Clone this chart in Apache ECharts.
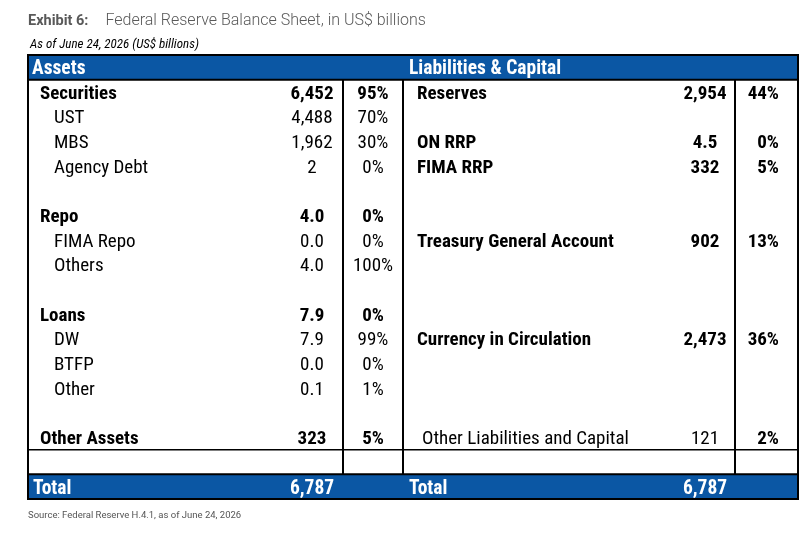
<!DOCTYPE html>
<html>
<head>
<meta charset="utf-8">
<script src="https://cdn.jsdelivr.net/npm/echarts@6/dist/echarts.min.js"></script>
<style>html,body{margin:0;padding:0;background:#fff;}#c{width:810px;height:538px;}</style>
</head>
<body>
<div id="c"></div>
<script>
// ---- data ----
var assetLabels = ['Securities','UST','MBS','Agency Debt','','Repo','FIMA Repo','Others','','Loans','DW','BTFP','Other','','Other Assets'];
var assetValues = ['6,452','4,488','1,962','2','','4.0','0.0','4.0','','7.9','7.9','0.0','0.1','','323'];
var assetPct    = ['95%','70%','30%','0%','','0%','0%','100%','','0%','99%','0%','1%','','5%'];
var assetIsGroup = [1,0,0,0,0,1,0,0,0,1,0,0,0,0,1];

var liabLabels = ['Reserves','','ON RRP','FIMA RRP','','','Treasury General Account','','','','Currency in Circulation','','','','Other Liabilities and Capital'];
var liabValues = ['2,954','','4.5','332','','','902','','','','2,473','','','','121'];
var liabPct    = ['44%','','0%','5%','','','13%','','','','36%','','','','2%'];
var liabIsGroup = [1,0,1,1,0,0,1,0,0,0,1,0,0,0,0];

var headers = ['Assets','Liabilities & Capital'];
var totalLabel = 'Total';
var totalAssets = '6,787';
var totalLiab = '6,787';

// ---- layout ----
var BLUE = '#0b57a4';
var FONT = "'Roboto Condensed','Liberation Sans Narrow','DejaVu Sans Condensed',Roboto,sans-serif";
var FS = 19;
var FSH = 19.5;
var W = 770;
var nRows = 1 + assetLabels.length + 2;
var rows = [];
for (var i = 0; i < nRows; i++) rows.push(i);
var COL = {aLabG:12, aLab:26, aVal:284, aPct:345, lLab:389, lLabR:394, lVal:677, lPct:751, hA:4, hL:381};
var VLINES = [315, 375, 707];

var cells = [];
function cell(x, r, text, bold, align, color, size) {
  if (text === '') return;
  cells.push([x, r, text, bold ? 1 : 0, align, color || '#000', size || FS]);
}
cell(COL.hA, 0, headers[0], 1, 'left', '#fff', FSH);
cell(COL.hL, 0, headers[1], 1, 'left', '#fff', FSH);
for (var k = 0; k < assetLabels.length; k++) {
  var r = k + 1, g = assetIsGroup[k];
  cell(g ? COL.aLabG : COL.aLab, r, assetLabels[k], g, 'left');
  cell(COL.aVal, r, assetValues[k], g, 'center');
  cell(COL.aPct, r, assetPct[k], g, 'center');
  var lg = liabIsGroup[k];
  var lastRow = (k === liabLabels.length - 1);
  cell(lastRow ? COL.lLabR : COL.lLab, r, liabLabels[k], lg, 'left');
  cell(COL.lVal, r, liabValues[k], lg, 'center');
  cell(COL.lPct, r, liabPct[k], lg || lastRow, 'right');
}
var tr = nRows - 1;
cell(COL.hA + 1, tr, totalLabel, 1, 'left', '#fff', FSH);
cell(COL.aVal, tr, totalAssets, 1, 'center', '#fff', FSH);
cell(COL.hL, tr, totalLabel, 1, 'left', '#fff', FSH);
cell(COL.lVal, tr, totalLiab, 1, 'center', '#fff', FSH);

// frame items: [kind, a, b]
var frame = [
  ['fill', 0], ['fill', tr],
  ['hline', 1, 2], ['hline', nRows - 2, 1.5], ['hline', tr, 2]
];
VLINES.forEach(function (x) { frame.push(['vline', x, 2]); });
frame.push(['box', 0, 2]);

var chart = echarts.init(document.getElementById('c'));
chart.setOption({
  backgroundColor: '#fff',
  animation: false,
  title: [
    { left: 28, top: 12, padding: 0, text: '{b|Exhibit 6:}  {r|Federal Reserve Balance Sheet, in US$ billions}',
      textStyle: { rich: {
        b: { fontFamily: 'Roboto', fontWeight: 'bold', fontSize: 14.5, color: '#595959' },
        r: { fontFamily: 'Roboto', fontWeight: 300, fontSize: 16, color: '#595959', padding:[0,0,0,7] } } } },
    { left: 30, top: 38, padding: 0, text: 'As of June 24, 2026 (US$ billions)',
      textStyle: { fontFamily: FONT, fontStyle: 'italic', fontWeight: 'normal', fontSize: 13, color: '#000' } },
    { left: 28, top: 511, padding: 0, text: 'Source: Federal Reserve H.4.1, as of June 24, 2026',
      textStyle: { fontFamily: 'Roboto', fontWeight: 'normal', fontSize: 9.5, color: '#555' } }
  ],
  grid: { left: 28, right: 12, top: 55, bottom: 39 },
  xAxis: { type: 'value', min: 0, max: W, show: false },
  yAxis: { type: 'category', data: rows, inverse: true, show: false },
  series: [
    {
      type: 'custom', data: frame, z: 1,
      renderItem: function (params, api) {
        var kind = frame[params.dataIndex][0];
        var h = api.size([0, 1])[1];
        function top(r) { return api.coord([0, r])[1] - h / 2; }
        var x0 = api.coord([0, 0])[0], x1 = api.coord([W, 0])[0];
        var a = frame[params.dataIndex][1], b = frame[params.dataIndex][2];
        if (kind === 'fill') {
          return { type: 'rect', shape: { x: x0, y: top(a), width: x1 - x0, height: h }, style: { fill: BLUE } };
        }
        if (kind === 'hline') {
          var y = top(a);
          return { type: 'line', shape: { x1: x0, y1: y, x2: x1, y2: y }, style: { stroke: '#000', lineWidth: b } };
        }
        if (kind === 'vline') {
          var x = api.coord([a, 0])[0];
          return { type: 'line', shape: { x1: x, y1: top(1), x2: x, y2: top(tr) }, style: { stroke: '#000', lineWidth: b } };
        }
        if (kind === 'box') {
          return { type: 'rect', shape: { x: x0, y: top(0), width: x1 - x0, height: top(tr) + h - top(0) },
            style: { fill: null, stroke: '#000', lineWidth: b } };
        }
      }
    },
    {
      type: 'custom', data: cells, z: 2,
      renderItem: function (params, api) {
        var d = cells[params.dataIndex];
        var p = api.coord([d[0], d[1]]);
        return { type: 'text', x: p[0], y: p[1] + 2,
          style: { text: d[2], fill: d[5], align: d[4], verticalAlign: 'middle',
            font: (d[3] ? 'bold ' : 'normal ') + d[6] + 'px ' + FONT } };
      }
    }
  ]
});
</script>
</body>
</html>
